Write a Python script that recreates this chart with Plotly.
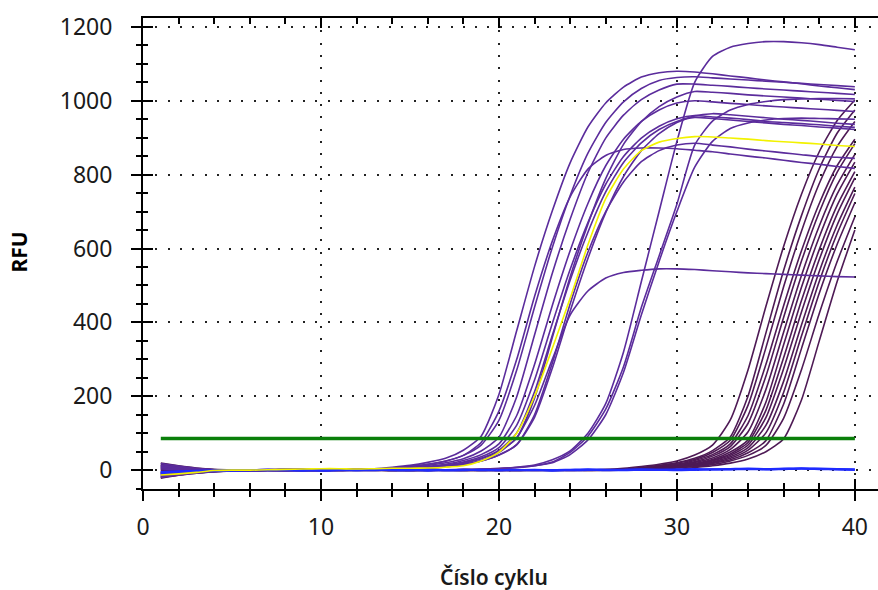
import plotly.graph_objects as go

# ---------------- data ----------------
cycles = [1, 2, 3, 4, 5, 6, 7, 8, 9, 10, 11, 12, 13, 14, 15, 16, 17, 18, 19, 20,
          21, 22, 23, 24, 25, 26, 27, 28, 29, 30, 31, 32, 33, 34, 35, 36, 37, 38, 39, 40]

threshold_rfu = 86
threshold_span = [1, 40]

# early wells (purple)
A1 = [14, 8, 3, 0, -2, -1, 1, 2, 0, 1, 3, 2, 4,
      8, 13, 21, 32, 54, 92, 205, 378, 551, 702, 832, 929, 994, 1037, 1064, 1076, 1080,
      1078, 1073, 1067, 1062, 1056, 1051, 1046, 1040, 1035, 1030]
A2 = [-18, -12, -7, -4, -2, 0, -1, 1, 0, 2, 1, 3, 2,
      5, 10, 16, 25, 40, 75, 160, 300, 470, 620, 740, 815, 852, 868, 872, 872, 870,
      866, 862, 856, 850, 845, 839, 833, 828, 822, 817]
A3 = [6, 3, 0, -2, -3, -1, 0, 2, 1, 0, 2, 3, 1,
      5, 10, 16, 24, 40, 68, 135, 271, 441, 603, 743, 858, 941, 997, 1033, 1055, 1063,
      1065, 1062, 1059, 1056, 1053, 1050, 1047, 1044, 1041, 1038]
A4 = [-8, -5, -3, -1, 0, 1, -1, 0, 2, 1, 0, 2, 3, 2,
      7, 13, 20, 31, 52, 89, 199, 366, 533, 679, 805, 899, 961, 1003, 1029, 1045,
      1045, 1042, 1039, 1035, 1032, 1029, 1026, 1023, 1020, 1017]
A5 = [18, 11, 5, 1, -1, 0, 2, 1, -1, 0, 1, 2, 1, 3,
      6, 10, 16, 26, 42, 71, 148, 286, 446, 594, 722, 824, 896, 944, 975, 994,
      1000, 997, 993, 990, 986, 983, 980, 977, 974, 971]
A6 = [-4, -3, -2, 0, 1, 0, -1, 1, 2, 0, 1, 2, 0, 2,
      5, 9, 14, 22, 36, 61, 122, 244, 397, 543, 670, 774, 849, 899, 931, 951,
      960, 956, 953, 949, 944, 941, 938, 935, 931, 928]
A7 = [10, 6, 2, 0, -1, 1, 0, -2, 0, 1, 2, 0, 1, 2,
      5, 8, 13, 20, 32, 54, 101, 212, 365, 514, 644, 753, 833, 886, 922, 944,
      955, 952, 948, 944, 940, 936, 933, 929, 926, 922]
A8 = [-20, -13, -8, -4, -2, -1, 0, 1, 0, -1, 1, 2, 1, 2, 3,
      7, 12, 19, 31, 51, 87, 195, 359, 523, 666, 789, 882, 943, 984, 1010,
      1025, 1023, 1020, 1016, 1013, 1010, 1007, 1004, 1001, 998]
A9 = [3, 1, -1, -2, 0, 1, 0, 2, 1, -1, 0, 1, 2, 1, 3,
      5, 10, 16, 25, 41, 69, 150, 290, 450, 590, 700, 780, 835, 865, 880,
      885, 880, 875, 869, 864, 859, 854, 849, 847, 844]
A10 = [-12, -8, -5, -2, -1, 0, 1, -1, 0, 2, 1, 0, 1, 2, 2,
       6, 10, 15, 25, 41, 69, 143, 276, 430, 573, 697, 795, 865, 911, 941,
       959, 965, 962, 958, 954, 950, 947, 943, 939, 936]
A_low = [8, 4, 1, -1, -2, 0, 1, 0, -1, 1, 2, 1, 0, 2, 3,
         5, 9, 15, 26, 48, 88, 175, 300, 420, 485, 520, 535, 541, 545, 545,
         543, 540, 537, 534, 532, 530, 528, 526, 524, 523]
yellow_well = [-13, -10, -6, -1, 0, 0, 1, 2, 3, 4, 4, 3, 4, 5, 5, 6, 8,
               12, 25, 49, 100, 200, 330, 465, 610, 735, 815, 865, 888, 898,
               903, 902, 899, 896, 892, 889, 886, 883, 879, 876]

# middle wells (purple)
B1 = [-15, -10, -6, -3, -2, -1, 0, 1, 0, -1, 0, 1, 0, 1, 2, 1, 0, 2, 3,
      5, 8, 14, 28, 52, 100, 180, 320, 510, 700, 890, 1050, 1120, 1145, 1155, 1160,
      1160, 1157, 1152, 1145, 1138]
B2 = [12, 7, 3, 1, 0, -1, 0, 1, 2, 0, -1, 0, 1, 2, 1, 0, 1, 2, 2,
      4, 7, 12, 22, 48, 92, 165, 280, 440, 580, 720, 880, 945, 975, 990, 998,
      1003, 1005, 1006, 1006, 1005]
B3 = [-6, -4, -2, -1, 0, 1, 0, -1, 0, 1, 0, 2, 1, 0, 1, 2, 1, 1, 2,
      4, 7, 12, 20, 42, 82, 150, 265, 420, 565, 700, 820, 890, 925, 940, 948,
      952, 953, 952, 951, 950]

# late wells (dark plum)
C1 = [-22, -14, -8, -4, -2, -1, 0, -1, 1, 0, -1, 0, 1, 0, -1, 0, 1, 0, -1, 0, 1, 0, 1, 0, 1, 2,
      5, 10, 16, 25, 41, 68, 136, 272, 443, 606, 747, 862, 946, 1002]
C2 = [5, 2, 0, -2, -3, -1, 0, 1, -1, 0, 1, 0, -1, 0, 1, 0, -1, 0, 1, 0, 0, 1, 0, -1, 0, 1, 2,
      7, 13, 20, 32, 53, 90, 201, 371, 541, 689, 816, 912, 975]
C3 = [-10, -7, -4, -2, -1, 0, 1, 0, -1, 0, 1, 0, 0, -1, 0, 1, 0, -1, 0, 1, 0, -1, 0, 1, 0, 1, 1,
      6, 11, 19, 29, 48, 81, 176, 331, 497, 647, 776, 876, 944]
C4 = [15, 9, 4, 1, 0, -1, 0, 1, 0, -1, 0, 1, 0, -1, 0, 0, 1, 0, -1, 0, 1, 0, 0, 1, 0, 1, 2,
      6, 10, 16, 26, 42, 71, 148, 286, 446, 594, 722, 824, 896]
C5 = [-18, -11, -6, -3, -2, -1, 0, -1, 0, 1, 0, -1, 0, 1, 0, -1, 0, 0, 1, 0, -1, 0, 1, 0, 0, 1, 1,
      5, 9, 15, 23, 38, 64, 127, 254, 414, 566, 698, 806, 884]
C6 = [0, -1, -2, -1, 0, 1, 0, -1, 0, 0, 1, 0, -1, 0, 1, 0, 0, -1, 0, 1, 0, 0, -1, 0, 1, 0, 1,
      5, 8, 14, 21, 33, 56, 104, 218, 374, 527, 661, 772, 855]
C7 = [-14, -9, -5, -3, -1, 0, -1, 0, 1, 0, -1, 0, 1, 0, 0, -1, 0, 1, 0, 0, -1, 0, 1, 0, 0, 1, 0, 2,
      7, 12, 18, 29, 49, 82, 184, 340, 495, 631, 747, 834]
C8 = [9, 5, 2, 0, -1, 0, 1, 0, -1, 0, 1, 0, 0, -1, 0, 1, 0, -1, 0, 0, 1, 0, -1, 0, 1, 0, 1, 1,
      6, 11, 17, 27, 44, 75, 162, 305, 459, 597, 716, 808]
C9 = [-6, -4, -2, -1, 0, 0, -1, 0, 1, 0, 0, -1, 0, 1, 0, 0, -1, 0, 1, 0, 0, -1, 0, 1, 0, 0, 1, 1,
      6, 10, 15, 25, 40, 68, 142, 275, 428, 570, 693, 791]
C10 = [19, 12, 6, 2, 0, -1, 0, 1, 0, -1, 0, 0, 1, 0, -1, 0, 1, 0, 0, -1, 0, 1, 0, 0, 1, 0, 0, 1,
       5, 9, 14, 22, 36, 61, 121, 241, 393, 538, 663, 766]
C11 = [-20, -13, -7, -4, -2, -1, 0, 0, -1, 0, 1, 0, 0, -1, 0, 1, 0, 0, -1, 0, 1, 0, 0, -1, 0, 1, 0, 1,
       5, 8, 13, 20, 32, 54, 101, 211, 363, 511, 640, 749]
C12 = [2, 1, 0, -1, -1, 0, 1, 0, 0, -1, 0, 1, 0, 0, -1, 0, 1, 0, 0, -1, 0, 1, 0, 0, -1, 0, 1, 0, 1,
       7, 11, 18, 28, 47, 80, 179, 329, 479, 611, 724]
C13 = [-9, -6, -3, -2, -1, 0, 0, 1, 0, -1, 0, 0, 1, 0, -1, 0, 0, 1, 0, -1, 0, 0, 1, 0, -1, 0, 1, 0, 1,
       6, 10, 15, 25, 40, 67, 141, 272, 424, 564, 686]
C14 = [12, 7, 3, 1, 0, -1, 0, 0, 1, 0, -1, 0, 0, 1, 0, -1, 0, 0, 1, 0, -1, 0, 0, 1, 0, -1, 0, 1, 0, 1,
       7, 12, 19, 30, 50, 85, 190, 350, 510, 650]

# negative controls (blue)
N1 = [-5, -3, -2, -1, 0, 0, 1, 0, -1, 0, 1, 0, 0, 1, 0, -1, 0, 1, 0, 0,
      1, 0, -1, 0, 1, 0, 1, 2, 1, 2, 3, 2, 3, 4, 3, 4, 5, 4, 3, 2]
N2 = [-8, -5, -3, -2, -1, 0, 0, 1, 0, -1, 0, 0, 1, 0, 0, 1, 0, 0, 1, 0,
      0, 1, 0, 1, 2, 1, 0, 1, 1, 0, 1, 2, 2, 3, 2, 3, 4, 3, 2, 1]

x_ticks = [0, 10, 20, 30, 40]
y_ticks = [0, 200, 400, 600, 800, 1000, 1200]
x_title = "Číslo cyklu"
y_title = "RFU"

early_wells = [A1, A2, A3, A4, A5, A6, A7, A8, A9, A10, A_low]
mid_wells = [B1, B2, B3]
late_wells = [C1, C2, C3, C4, C5, C6, C7, C8, C9, C10, C11, C12, C13, C14]
ntc_wells = [N1, N2]

# ---------------- styling ----------------
PURPLE = "#5b2c9c"
PLUM = "#4e1a55"
BLUE = "#1f2bff"
YELLOW = "#f2f200"
GREEN = "#0a7f0a"
FONT = "Noto Sans"

fig = go.Figure()


def add_curve(ys, color, width=1.6):
    fig.add_trace(go.Scatter(
        x=cycles, y=ys, mode="lines",
        line=dict(color=color, width=width, shape="spline", smoothing=0.6),
        hoverinfo="skip", showlegend=False))


for ys in late_wells:
    add_curve(ys, PLUM)
for ys in early_wells:
    add_curve(ys, PURPLE)
for ys in mid_wells:
    add_curve(ys, PURPLE)
for ys in ntc_wells:
    add_curve(ys, BLUE, 2.2)
add_curve(yellow_well, YELLOW, 1.6)

fig.add_trace(go.Scatter(
    x=threshold_span, y=[threshold_rfu, threshold_rfu], mode="lines",
    line=dict(color=GREEN, width=3.5), hoverinfo="skip", showlegend=False))

# dummy trace to realise the overlay axes that carry the inner tick marks
fig.add_trace(go.Scatter(x=[None], y=[None], xaxis="x2", yaxis="y2",
                         mode="lines", showlegend=False, hoverinfo="skip"))

X_RANGE = [0, 41.3]
Y_RANGE = [-51, 1224]
tickfont = dict(family=FONT, size=23, color="#1a1a1a")

fig.update_layout(
    width=878, height=590,
    margin=dict(l=143, r=0, t=18, b=101, autoexpand=False),
    paper_bgcolor="white", plot_bgcolor="white",
    showlegend=False,
    xaxis=dict(
        range=X_RANGE, tickmode="array", tickvals=x_ticks,
        ticks="outside", ticklen=10, tickwidth=1.6, tickcolor="black",
        showline=True, linecolor="black", linewidth=2,
        tickfont=tickfont, ticklabelstandoff=6,
        showgrid=True, gridcolor="#222222", gridwidth=2, griddash="2px,10.3px",
        zeroline=False, automargin=False,
        minor=dict(dtick=2, ticks="outside", ticklen=6, tickwidth=1.6,
                   tickcolor="black", showgrid=False),
    ),
    yaxis=dict(
        range=Y_RANGE, tickmode="array", tickvals=y_ticks,
        ticks="outside", ticklen=10, tickwidth=1.6, tickcolor="black",
        showline=True, linecolor="black", linewidth=2,
        tickfont=tickfont, ticklabelstandoff=14,
        showgrid=True, gridcolor="#222222", gridwidth=2, griddash="2px,10.3px",
        zeroline=False, automargin=False,
        minor=dict(dtick=50, ticks="outside", ticklen=5, tickwidth=1.6,
                   tickcolor="black", showgrid=False),
    ),
    xaxis2=dict(
        overlaying="x", anchor="y", range=X_RANGE, tickmode="array", tickvals=x_ticks,
        ticks="inside", ticklen=10, tickwidth=1.6, tickcolor="black",
        showline=True, linecolor="black", linewidth=2, mirror="ticks",
        showticklabels=False, showgrid=False, zeroline=False,
        minor=dict(dtick=2, ticks="inside", ticklen=6, tickwidth=1.6,
                   tickcolor="black", showgrid=False),
    ),
    yaxis2=dict(
        overlaying="y", anchor="x", range=Y_RANGE, tickmode="array", tickvals=y_ticks,
        ticks="inside", ticklen=10, tickwidth=1.6, tickcolor="black",
        showline=False, showticklabels=False, showgrid=False, zeroline=False,
        minor=dict(dtick=50, ticks="inside", ticklen=5, tickwidth=1.6,
                   tickcolor="black", showgrid=False),
    ),
    annotations=[
        dict(text=x_title, xref="x", yref="paper", x=19.7, y=-0.187,
             xanchor="center", yanchor="middle", showarrow=False,
             font=dict(family=FONT, size=21, color="#1a1a1a", weight=600)),
        dict(text=y_title, xref="paper", yref="paper", x=-0.168, y=0.503,
             xanchor="center", yanchor="middle", showarrow=False, textangle=-90,
             font=dict(family=FONT, size=21, color="black", weight="bold")),
    ],
)

fig.write_html("out.html", config={"displayModeBar": False},
               post_script="document.body.style.margin='0';")
